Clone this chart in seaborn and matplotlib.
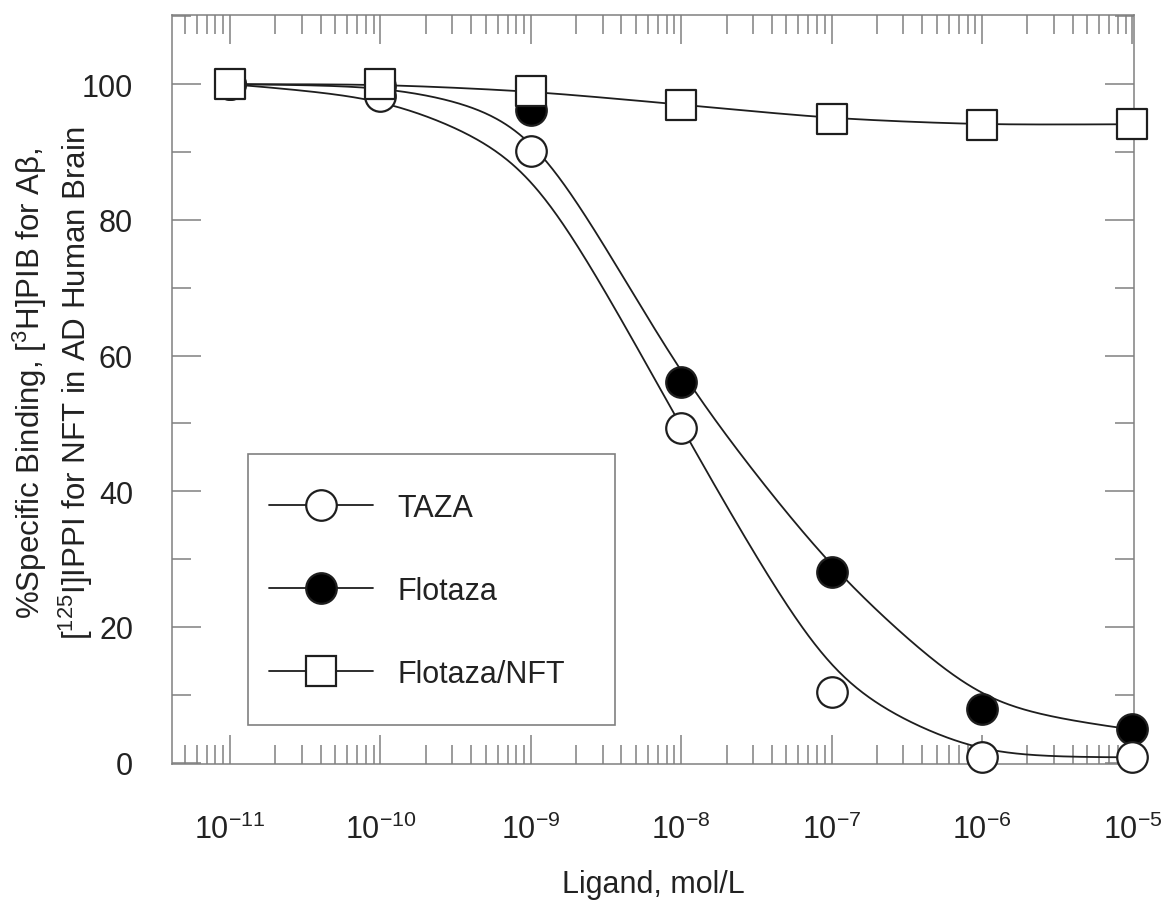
import numpy as np
import pandas as pd
import matplotlib
matplotlib.use("Agg")
import matplotlib.pyplot as plt
import seaborn as sns
from matplotlib.ticker import FixedLocator, MultipleLocator, FuncFormatter, NullFormatter
from matplotlib.lines import Line2D
from matplotlib.legend_handler import HandlerLine2D

# ---------------- data ----------------
concentrations = [1e-11, 1e-10, 1e-9, 1e-8, 1e-7, 1e-6, 1e-5]
taza = [100.0, 98.2, 90.1, 49.3, 10.4, 0.8, 0.8]
flotaza = [100.0, 99.8, 96.2, 56.1, 28.1, 7.9, 4.9]
flotaza_nft = [100.0, 100.0, 99.0, 97.0, 94.9, 94.0, 94.1]
series_labels = ["TAZA", "Flotaza", "Flotaza/NFT"]
x_tick_exponents = [-11, -10, -9, -8, -7, -6, -5]
y_tick_values = [0, 20, 40, 60, 80, 100]

# ---------------- style ----------------
sns.set_theme(style="ticks")
plt.rcParams["font.family"] = ["Liberation Sans", "DejaVu Sans"]
plt.rcParams["mathtext.fontset"] = "custom"
plt.rcParams["mathtext.rm"] = "Liberation Sans"
plt.rcParams["mathtext.it"] = "Liberation Sans:italic"
plt.rcParams["mathtext.bf"] = "Liberation Sans:bold"
TEXT = "#222222"
SPINE = "#808080"
LINE = "#1e1e1e"
FS = 22


def weighted_smooth(x, y, x_eval, bandwidth=0.55):
    """Locally weighted (Gaussian kernel) linear regression in log10(x),
    like a 'weighted' smoothing curve through the measured points."""
    lx = np.log10(np.asarray(x, float))
    y = np.asarray(y, float)
    le = np.log10(np.asarray(x_eval, float))
    d = lx[None, :] - le[:, None]
    w = np.exp(-0.5 * (d / bandwidth) ** 2)
    s0 = w.sum(1); s1 = (w * d).sum(1); s2 = (w * d * d).sum(1)
    t0 = (w * y).sum(1); t1 = (w * d * y).sum(1)
    return (t0 * s2 - t1 * s1) / (s0 * s2 - s1 ** 2)


points = pd.DataFrame({
    "conc": concentrations * 3,
    "binding": taza + flotaza + flotaza_nft,
    "series": np.repeat(series_labels, len(concentrations)),
})

x_curve = np.logspace(np.log10(concentrations[0]), np.log10(concentrations[-1]), 600)
curves = pd.concat([
    pd.DataFrame({"conc": x_curve, "binding": weighted_smooth(concentrations, vals, x_curve),
                  "series": name})
    for name, vals in zip(series_labels, [taza, flotaza, flotaza_nft])
], ignore_index=True)

# ---------------- figure ----------------
W, H = 1163, 903
fig = plt.figure(figsize=(W / 100, H / 100), dpi=100)
L, R, T, B = 172, 1134, 16, 765
ax = fig.add_axes([L / W, 1 - B / H, (R - L) / W, (B - T) / H])
ax.set_xscale("log")

for name in series_labels:
    sns.lineplot(data=curves[curves.series == name], x="conc", y="binding", ax=ax,
                 color=LINE, lw=1.3, zorder=2, legend=False, estimator=None, sort=False)

marker_style = {
    "Flotaza": dict(marker="o", facecolor="black", z=3),
    "TAZA": dict(marker="o", facecolor="white", z=4),
    "Flotaza/NFT": dict(marker="s", facecolor="white", z=5),
}
MS = 22
for name in ["Flotaza", "TAZA", "Flotaza/NFT"]:
    st = marker_style[name]
    sns.scatterplot(data=points[points.series == name], x="conc", y="binding", ax=ax,
                    marker=st["marker"], s=MS ** 2, color=st["facecolor"],
                    edgecolor=LINE, linewidth=1.6, zorder=st["z"], legend=False,
                    clip_on=False)

ax.set_xlim(10 ** -11.386, 10 ** -4.99)
ax.set_ylim(-0.2, 110.2)

ax.xaxis.set_major_locator(FixedLocator([10.0 ** e for e in x_tick_exponents]))
ax.xaxis.set_major_formatter(FuncFormatter(lambda v, pos: r"$10^{%d}$" % round(np.log10(v))))
minor_x = [k * 10.0 ** e for e in range(-12, -4) for k in range(2, 10)]
ax.xaxis.set_minor_locator(FixedLocator(minor_x))
ax.xaxis.set_minor_formatter(NullFormatter())
ax.yaxis.set_major_locator(FixedLocator(y_tick_values))
ax.yaxis.set_minor_locator(MultipleLocator(10))

ax.tick_params(which="both", direction="in", top=True, right=True, color=SPINE,
               width=1.1, labelsize=FS, labelcolor=TEXT)
ax.tick_params(which="major", length=21)
ax.tick_params(which="minor", length=14)
ax.tick_params(axis="x", which="major", pad=36)
ax.tick_params(axis="y", which="major", pad=28)

for sp in ax.spines.values():
    sp.set_color(SPINE)
    sp.set_linewidth(1.1)
    sp.set_visible(True)

ax.set_xlabel("Ligand, mol/L", fontsize=FS, color=TEXT, labelpad=17)
ax.set_ylabel("%Specific Binding, [$^{3}$H]PIB for A\u03b2,\n[$^{125}$I]IPPI for NFT in AD Human Brain",
              fontsize=22.5, color=TEXT, multialignment="center", linespacing=1.25)
ax.yaxis.set_label_coords(-0.080, 0.51)


class ShiftedLineHandler(HandlerLine2D):
    """Line handler whose handle is moved down so it stays centred on the label text."""

    def __init__(self, shift, **kw):
        super().__init__(**kw)
        self.shift = shift

    def create_artists(self, legend, orig_handle, xdescent, ydescent, width, height, fontsize, trans):
        arts = super().create_artists(legend, orig_handle, xdescent, ydescent, width, height,
                                      fontsize, trans)
        for a in arts:
            if hasattr(a, "get_ydata"):
                a.set_ydata(np.asarray(a.get_ydata(), float) - self.shift * fontsize)
        return arts


HH = 2.81
handles = [
    Line2D([], [], color=LINE, lw=1.3, marker="o", markersize=MS, markerfacecolor="white",
           markeredgecolor=LINE, markeredgewidth=1.6),
    Line2D([], [], color=LINE, lw=1.3, marker="o", markersize=MS, markerfacecolor="black",
           markeredgecolor=LINE, markeredgewidth=1.6),
    Line2D([], [], color=LINE, lw=1.3, marker="s", markersize=MS, markerfacecolor="white",
           markeredgecolor=LINE, markeredgewidth=1.6),
]
x0 = (248 - L) / (R - L)
x1 = (615 - L) / (R - L)
y_top = (B - 455) / (B - T)
leg = ax.legend(handles, series_labels, loc="upper left", bbox_to_anchor=(x0, y_top, x1 - x0, 0.0),
                mode="expand", borderaxespad=0, fontsize=FS, frameon=True, fancybox=False,
                framealpha=1, edgecolor=SPINE, handlelength=3.4, handletextpad=0.8,
                handleheight=HH, borderpad=0.69, labelspacing=0.645, labelcolor=TEXT,
                handler_map={Line2D: ShiftedLineHandler(0.15 * HH - 0.105)})
leg.get_frame().set_linewidth(1.2)

fig.savefig("out.png", dpi=100)
